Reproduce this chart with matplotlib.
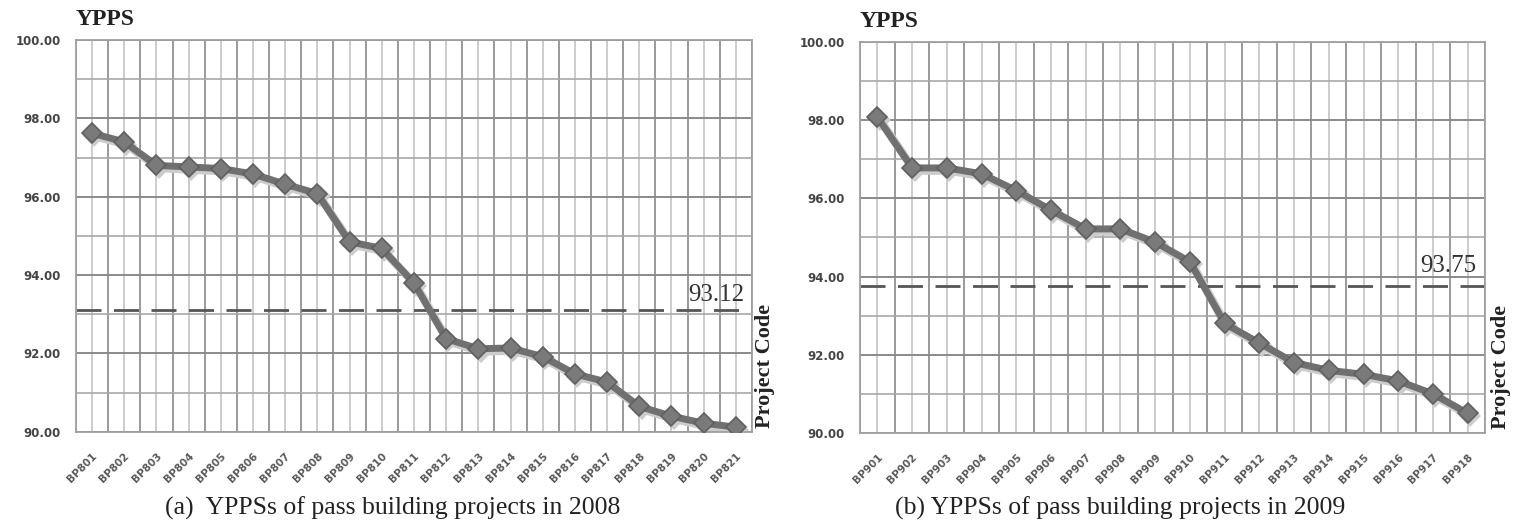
import matplotlib.pyplot as plt
from matplotlib.ticker import MultipleLocator, FixedLocator

codes_2008 = ["BP801", "BP802", "BP803", "BP804", "BP805", "BP806", "BP807",
              "BP808", "BP809", "BP810", "BP811", "BP812", "BP813", "BP814",
              "BP815", "BP816", "BP817", "BP818", "BP819", "BP820", "BP821"]
ypps_2008 = [97.62, 97.40, 96.80, 96.76, 96.72, 96.58, 96.32, 96.08, 94.85,
             94.68, 93.80, 92.38, 92.12, 92.14, 91.92, 91.48, 91.27, 90.65,
             90.40, 90.22, 90.12]
mean_2008 = 93.12

codes_2009 = ["BP901", "BP902", "BP903", "BP904", "BP905", "BP906", "BP907",
              "BP908", "BP909", "BP910", "BP911", "BP912", "BP913", "BP914",
              "BP915", "BP916", "BP917", "BP918"]
ypps_2009 = [98.08, 96.78, 96.78, 96.63, 96.20, 95.70, 95.22, 95.22, 94.88,
             94.38, 92.80, 92.30, 91.80, 91.60, 91.50, 91.33, 91.00, 90.50]
mean_2009 = 93.75

serif = "Liberation Serif"
yticks = [90, 92, 94, 96, 98, 100]

fig = plt.figure(figsize=(15.16, 5.26), dpi=100)
ax_a = fig.add_axes([0.0501, 0.179, 0.4459, 0.745])
ax_b = fig.add_axes([0.5673, 0.177, 0.4123, 0.743])


def draw(ax, codes, vals, mean, lab_off, code_x):
    n = len(codes)
    x = list(range(n))
    ax.set_xlim(-0.5, n - 0.5)
    ax.set_ylim(90, 100)
    ax.xaxis.set_major_locator(FixedLocator(x))
    ax.xaxis.set_minor_locator(FixedLocator([i + 0.5 for i in range(-1, n)]))
    ax.yaxis.set_minor_locator(MultipleLocator(1))
    ax.grid(which="major", axis="x", color="#c4c4c4", lw=1.2)
    ax.grid(which="minor", axis="x", color="#9a9a9a", lw=1.4)
    ax.grid(which="major", axis="y", color="#8a8a8a", lw=1.4)
    ax.grid(which="minor", axis="y", color="#a8a8a8", lw=1.2)
    ax.set_axisbelow(True)
    for s in ax.spines.values():
        s.set_color("#a0a0a0")
        s.set_linewidth(1.3)
    ax.tick_params(which="both", length=0)
    ax.set_xticks(x)
    ax.set_xticklabels(codes, rotation=45, ha="right", rotation_mode="anchor",
                       fontsize=7.5, family="DejaVu Sans", fontweight="bold",
                       color="#5a5a5a")
    ax.set_yticks(yticks)
    ax.set_yticklabels(["%.2f" % v for v in yticks], fontsize=8.5,
                       family="DejaVu Sans", fontweight="bold", color="#444444")
    ax.tick_params(axis="x", pad=14)
    ax.tick_params(axis="y", pad=11)

    # soft shadow then main line
    ax.plot([i + 0.07 for i in x], [v - 0.07 for v in vals], color="#cccccc",
            lw=6, marker="D", markersize=11, markeredgewidth=0, zorder=2)
    ax.plot(x, vals, color="#707070", lw=5, marker="D", markersize=10.5,
            markerfacecolor="#7a7a7a", markeredgecolor="#606060",
            markeredgewidth=1.2, zorder=3)

    ax.axhline(mean, color="#555555", lw=2, dashes=(9, 4.5), zorder=2.5)
    ax.text(n - 0.75, mean + lab_off, "%.2f" % mean, ha="right",
            va="baseline", fontsize=18, family=serif, color="#333333")
    ax.text(code_x, 0.01, "Project Code", transform=ax.transAxes, rotation=90,
            ha="left", va="bottom", fontsize=16, family=serif,
            fontweight="bold", color="#222222")
    ax.text(0.0, 1.025, "YPPS", transform=ax.transAxes, ha="left",
            va="bottom", fontsize=17, family=serif, fontweight="bold",
            color="#222222")


draw(ax_a, codes_2008, ypps_2008, mean_2008, 0.22, 1.004)
draw(ax_b, codes_2009, ypps_2009, mean_2009, 0.36, 1.009)

fig.text(0.259, 0.012, "(a)  YPPSs of pass building projects in 2008",
         ha="center", va="bottom", fontsize=18.5, family=serif, color="#222222")
fig.text(0.739, 0.012, "(b) YPPSs of pass building projects in 2009",
         ha="center", va="bottom", fontsize=18.5, family=serif, color="#222222")

fig.savefig("out.png", dpi=100, facecolor="white")
